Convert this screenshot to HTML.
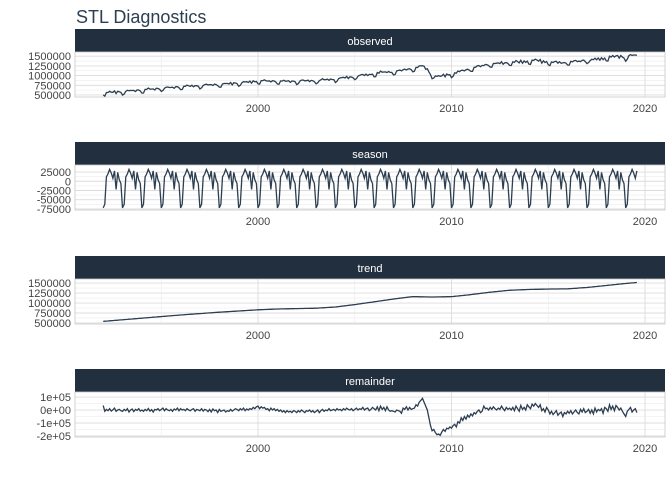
<!DOCTYPE html>
<html><head><meta charset="utf-8"><style>
body{margin:0;background:#fff;font-family:"Liberation Sans",sans-serif}
svg text{font-family:"Liberation Sans",sans-serif}
</style></head><body>
<svg id="c" width="672" height="480" xmlns="http://www.w3.org/2000/svg">
<text x="76" y="23" font-size="18" fill="#2c3e50">STL Diagnostics</text>
</svg>
<script>
const startYear = 1992;
const seasonPattern = [-72000,-62000,12000,20000,32000,22000,8000,28000,-22000,24000,4000,-6000];
const trendYears = [1992,1993,1994,1995,1996,1997,1998,1999,2000,2001,2002,2003,2004,2005,2006,2007,2008,2009,2010,2011,2012,2013,2014,2015,2016,2017,2018,2019,2019.7];
const trendValues = [540000,580000,620000,660000,700000,735000,770000,800000,830000,850000,860000,870000,900000,960000,1030000,1100000,1160000,1150000,1160000,1210000,1270000,1320000,1340000,1350000,1355000,1390000,1440000,1490000,1520000];
const remainderK = [
35,-10,5,-5,10,-8,2,15,-10,0,5,-5,
-10,5,-5,10,-15,0,8,-12,5,-3,10,-8,
0,-10,5,-5,12,-8,3,-15,5,0,10,-5,
5,15,-5,10,0,-5,5,-10,8,0,15,-5,
10,0,5,-5,10,0,-5,5,10,-10,5,0,
-5,10,-8,5,0,-12,5,-15,8,-5,0,-20,
5,-10,-5,0,-15,-5,-10,5,-8,0,10,5,
-5,10,0,15,-5,8,0,12,5,20,10,25,
30,10,25,15,20,5,10,-5,15,0,10,-5,
5,-10,0,-15,-5,-20,-5,-15,-10,-20,-5,-10,
-20,-5,-15,0,-10,-20,-5,-10,0,-15,-5,-20,
-10,0,-20,-5,5,-10,0,-5,10,-5,0,5,
-5,10,0,5,-5,10,0,15,5,0,10,-5,
5,15,0,10,5,20,0,10,15,-5,5,20,
10,0,25,-5,30,5,20,-5,25,0,-10,-5,
-10,-15,0,-5,-10,-25,15,5,25,0,20,5,
10,15,40,30,60,75,90,60,30,0,-60,-120,
-160,-150,-175,-190,-185,-195,-170,-150,-165,-140,-145,-130,
-140,-120,-110,-130,-90,-100,-60,-80,-50,-70,-40,-55,
-30,-45,-20,-30,-10,0,-20,-10,30,10,15,0,
20,5,25,10,0,15,5,30,10,-5,20,5,
15,0,20,-5,30,10,-10,35,5,20,0,40,
25,10,45,30,50,35,20,40,-5,10,-15,20,
0,-30,-10,-35,-20,-5,-40,-25,-15,-50,-20,-30,
-10,-25,-5,-30,-15,0,-20,-30,5,-15,10,-20,
-10,5,-25,0,-30,15,-15,5,-5,10,-25,20,
10,-10,40,5,30,-5,35,20,0,15,-10,-30,
-50,-10,5,20,-15,0,10,-20];
const xTickYears = [2000,2010,2020];
const xMinorYears = [1995,2005,2015];
const obsTicks = [500000,750000,1000000,1250000,1500000];
const seasonTicks = [-75000,-50000,-25000,0,25000];
const remTicks = [-200000,-100000,0,100000];
const remTickLabels = ["-2e+05","-1e+05","0e+00","1e+05"];

const NS="http://www.w3.org/2000/svg";
const svg=document.getElementById('c');
function mk(tag,attrs,parent){const e=document.createElementNS(NS,tag);for(const k in attrs)e.setAttribute(k,attrs[k]);(parent||svg).appendChild(e);return e;}
const X0=75,X1=665;
const xs=y=>258+(y-2000)*19.35;

// series
const n=remainderK.length;
const t=[],season=[],trend=[],rem=[],obs=[];
function trendAt(y){for(let i=0;i<trendYears.length-1;i++){if(y<=trendYears[i+1]){const f=(y-trendYears[i])/(trendYears[i+1]-trendYears[i]);return trendValues[i]+f*(trendValues[i+1]-trendValues[i]);}}return trendValues[trendValues.length-1];}
for(let i=0;i<n;i++){const yr=startYear+i/12;t.push(yr);season.push(seasonPattern[i%12]);trend.push(trendAt(yr));rem.push(remainderK[i]*1000);obs.push(trend[i]+season[i]+rem[i]);}

const panels=[
 {name:'observed',top:29,vals:obs,vmin:448000,vmax:1608000,ticks:obsTicks,labels:obsTicks.map(String)},
 {name:'season',top:142,vals:season,vmin:-77800,vmax:44000,ticks:seasonTicks,labels:seasonTicks.map(String)},
 {name:'trend',top:256,vals:trend,vmin:474000,vmax:1602000,ticks:obsTicks,labels:obsTicks.map(String)},
 {name:'remainder',top:369,vals:rem,vmin:-208000,vmax:139000,ticks:remTicks,labels:remTickLabels}
];
panels.forEach(p=>{
 const g=mk('g',{});
 
 
 const sTop=p.top,pTop=p.top+23,pBot=p.top+68;
 const ys=v=>pBot-(v-p.vmin)/(p.vmax-p.vmin)*(pBot-pTop);
 const strip=mk('rect',{x:X0,y:sTop,width:X1-X0,height:23,fill:'#222f3e'},g);
 
 
 const st=mk('text',{x:(X0+X1)/2,y:sTop+16,'font-size':11,fill:'#fff','text-anchor':'middle'},g);
 st.textContent=p.name;
 
 
 // grid
 for(let i=0;i<p.ticks.length;i++){
  if(i<p.ticks.length-1){const mv=(p.ticks[i]+p.ticks[i+1])/2;mk('line',{x1:X0,x2:X1,y1:ys(mv),y2:ys(mv),stroke:'#ececec','stroke-width':0.6},g);}
  mk('line',{x1:X0,x2:X1,y1:ys(p.ticks[i]),y2:ys(p.ticks[i]),stroke:'#dcdcdc','stroke-width':0.9},g);
  const tl=mk('text',{x:71,y:ys(p.ticks[i])+4,'font-size':11,fill:'#444','text-anchor':'end'},g);
  tl.textContent=p.labels[i];
  
  
 }
 xMinorYears.forEach(y=>mk('line',{x1:xs(y),x2:xs(y),y1:pTop,y2:pBot,stroke:'#ececec','stroke-width':0.6},g));
 xTickYears.forEach(y=>{
  mk('line',{x1:xs(y),x2:xs(y),y1:pTop,y2:pBot,stroke:'#dcdcdc','stroke-width':0.9},g);
  const xl=mk('text',{x:xs(y),y:pBot+15,'font-size':11,fill:'#444','text-anchor':'middle'},g);
  xl.textContent=String(y);
  
  
 });
 mk('rect',{x:X0,y:pTop,width:X1-X0,height:pBot-pTop,fill:'none',stroke:'#c8c8c8','stroke-width':0.8},g);
 const d=p.vals.map((v,i)=>(i?'L':'M')+xs(t[i]).toFixed(1)+','+ys(v).toFixed(1)).join('');
 const line=mk('path',{d:d,fill:'none',stroke:'#2c3e50','stroke-width':1.3},g);
 
 
});
</script>
</body></html>
